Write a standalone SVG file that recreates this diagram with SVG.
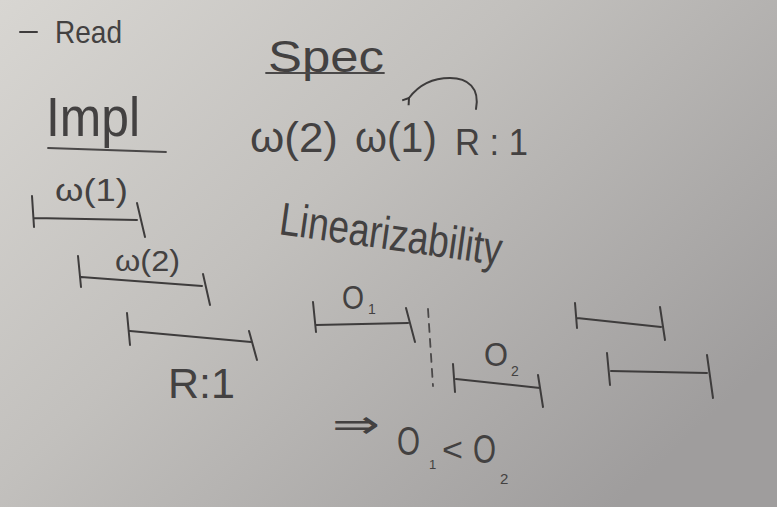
<svg xmlns="http://www.w3.org/2000/svg" width="777" height="507" viewBox="0 0 777 507">
<defs>
<linearGradient id="bg" x1="0" y1="0" x2="1" y2="0.7">
<stop offset="0" stop-color="#d8d6d2"/>
<stop offset="0.45" stop-color="#c2c0bd"/>
<stop offset="1" stop-color="#9f9d9d"/>
</linearGradient>
<marker id="ah" markerWidth="10" markerHeight="10" refX="2" refY="5" orient="auto" markerUnits="userSpaceOnUse">
<path d="M8,1 L2,5 L8,9" fill="none" stroke="#3a3838" stroke-width="2"/>
</marker>
<style>
.t{font-family:"Liberation Sans","DejaVu Sans",sans-serif;fill:#434141;}
.s{fill:none;stroke:#3e3c3c;stroke-width:2;stroke-linecap:round;}
.u{fill:none;stroke:#4a4848;stroke-width:1.8;stroke-linecap:round;}
</style>
</defs>
<rect width="777" height="507" fill="url(#bg)"/>

<g id="read">
<path class="s" d="M20,32 L37,32"/>
<text class="t" x="55" y="43" font-size="32" textLength="67" lengthAdjust="spacingAndGlyphs">Read</text>
</g>

<g id="impl">
<text class="t" x="46" y="136" font-size="56" textLength="94" lengthAdjust="spacingAndGlyphs">Impl</text>
<path class="u" d="M48,148 L166,152"/>
</g>

<g id="spec">
<text class="t" x="268" y="72" font-size="44" textLength="116" lengthAdjust="spacingAndGlyphs">Spec</text>
<path class="u" d="M266,73 L384,73"/>
</g>

<g id="spec-seq">
<text class="t" x="250" y="152" font-size="42" textLength="88" lengthAdjust="spacingAndGlyphs">ω(2)</text>
<text class="t" x="355" y="152" font-size="42" textLength="82" lengthAdjust="spacingAndGlyphs">ω(1)</text>
<text class="t" x="455" y="155" font-size="36" textLength="73" lengthAdjust="spacingAndGlyphs">R : 1</text>
</g>

<g id="linearizability">
<text class="t" x="278" y="234" font-size="46" textLength="224" lengthAdjust="spacingAndGlyphs" transform="rotate(8 278 234)">Linearizability</text>
</g>

<g id="impl-w1">
<text class="t" x="55" y="201" font-size="32" textLength="73" lengthAdjust="spacingAndGlyphs">ω(1)</text>
<path class="s" d="M32,196 L34,227 M34,218 L137,220 M137,203 L145,237"/>
</g>

<g id="impl-w2">
<text class="t" x="115" y="271" font-size="30" textLength="65" lengthAdjust="spacingAndGlyphs">ω(2)</text>
<path class="s" d="M78,256 L81,287 M81,277 L202,286 M203,274 L210,305"/>
</g>

<g id="impl-r">
<path class="s" d="M127,313 L130,345 M130,331 L251,342 M249,331 L257,360"/>
<text class="t" x="168" y="398" font-size="42" textLength="67" lengthAdjust="spacingAndGlyphs">R:1</text>
</g>

<g id="op1">
<text class="t" x="342" y="309" font-size="34" textLength="22" lengthAdjust="spacingAndGlyphs">O</text>
<text class="t" x="368" y="314" font-size="14">1</text>
<path class="s" d="M313,302 L316,332 M316,325 L408,323 M406,308 L415,342"/>
</g>

<g id="op2">
<text class="t" x="484" y="366" font-size="34" textLength="24" lengthAdjust="spacingAndGlyphs">O</text>
<text class="t" x="511" y="376" font-size="14">2</text>
<path class="s" d="M453,364 L455,392 M456,379 L540,388 M538,375 L543,407"/>
</g>

<g id="right-ops">
<path class="s" d="M575,303 L577,328 M577,318 L661,327 M660,307 L665,340"/>
<path class="s" d="M607,353 L610,385 M611,371 L707,373 M707,355 L713,398"/>
</g>

<g id="conclusion">
<text class="t" x="332" y="438" font-size="40" textLength="48" lengthAdjust="spacingAndGlyphs">⇒</text>
<text class="t" x="397" y="455" font-size="40" textLength="23" lengthAdjust="spacingAndGlyphs">O</text>
<text class="t" x="429" y="469" font-size="13">1</text>
<text class="t" x="442" y="461" font-size="34" textLength="21" lengthAdjust="spacingAndGlyphs">&lt;</text>
<text class="t" x="473" y="463" font-size="40" textLength="23" lengthAdjust="spacingAndGlyphs">O</text>
<text class="t" x="500" y="484" font-size="15">2</text>
</g>

<g id="connectors">
<path class="s" d="M476,109 C480,88 468,78 450,78 C432,78 418,86 409,98" marker-end="url(#ah)"/>
<path class="u" d="M428,309 L433,386" stroke-dasharray="8,7"/>
</g>
</svg>
